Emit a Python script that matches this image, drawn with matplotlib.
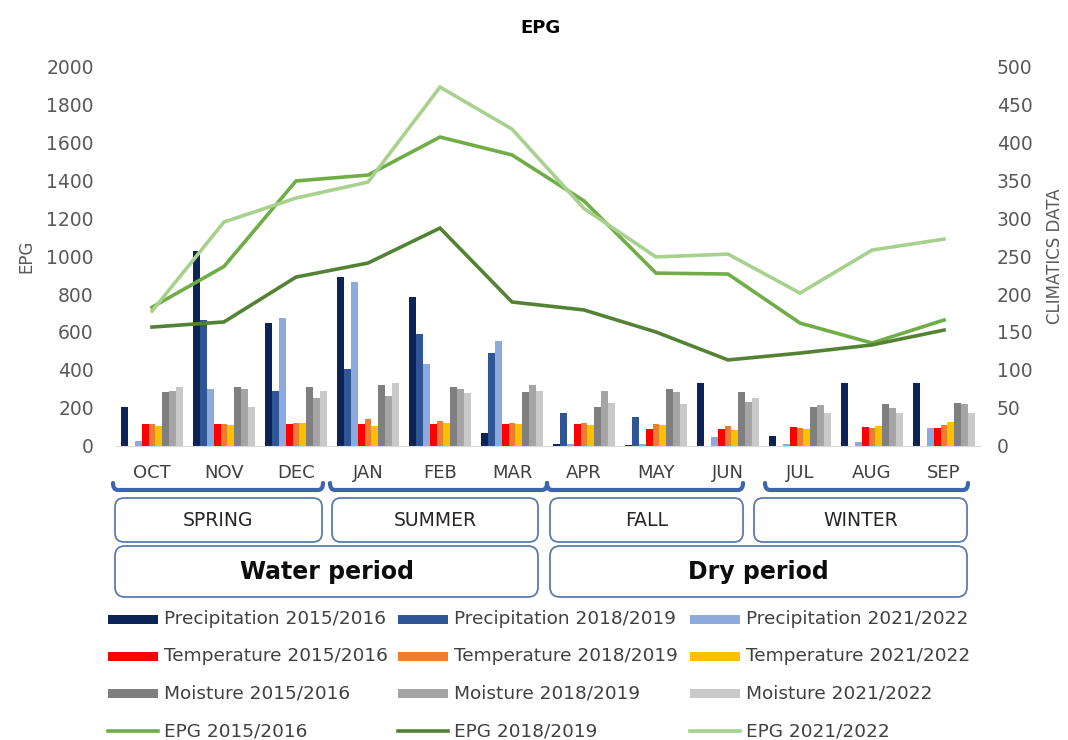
import numpy as np
import matplotlib
matplotlib.use("Agg")
import matplotlib.pyplot as plt
from matplotlib.patches import FancyBboxPatch, Rectangle, PathPatch
from matplotlib.path import Path

plt.rcParams['font.family'] = ['DejaVu Sans']

months = ['OCT', 'NOV', 'DEC', 'JAN', 'FEB', 'MAR', 'APR', 'MAY', 'JUN', 'JUL', 'AUG', 'SEP']

# EPG per month (left axis)
epg_1516 = [730, 945, 1395, 1426, 1626, 1532, 1290, 910, 905, 647, 542, 663]
epg_1819 = [626, 653, 889, 963, 1147, 758, 716, 600, 453, 489, 532, 610]
epg_2122 = [710, 1179, 1305, 1389, 1889, 1668, 1250, 995, 1010, 805, 1031, 1089]

# climatic data (right axis)
prec_1516 = [51, 257, 162, 222, 196, 17, 2, 1, 83, 13, 83, 83]
prec_1819 = [0, 166, 72, 101, 147, 122, 43, 38, 0, 0, 0, 0]
prec_2122 = [7, 75, 168, 216, 108, 138, 3, 2, 12, 3, 5, 24]
temp_1516 = [29, 29, 29, 29, 29, 29, 29, 22, 22, 25, 25, 24]
temp_1819 = [29, 29, 30, 36, 33, 30, 30, 29, 26, 24, 24, 28]
temp_2122 = [26, 28, 30, 26, 30, 29, 28, 28, 21, 22, 26, 31]
moist_1516 = [71, 78, 78, 80, 78, 71, 51, 75, 71, 51, 55, 57]
moist_1819 = [73, 75, 63, 66, 75, 80, 72, 71, 58, 54, 50, 55]
moist_2122 = [78, 51, 73, 83, 70, 72, 57, 55, 63, 43, 43, 43]

seasons = ['SPRING', 'SUMMER', 'FALL', 'WINTER']
periods = ['Water period', 'Dry period']

bar_series = [
    ('Precipitation 2015/2016', prec_1516, '#0C2455'),
    ('Precipitation 2018/2019', prec_1819, '#2F5597'),
    ('Precipitation 2021/2022', prec_2122, '#8EA9DB'),
    ('Temperature 2015/2016', temp_1516, '#FF0000'),
    ('Temperature 2018/2019', temp_1819, '#ED7D31'),
    ('Temperature 2021/2022', temp_2122, '#FFC000'),
    ('Moisture 2015/2016', moist_1516, '#7F7F7F'),
    ('Moisture 2018/2019', moist_1819, '#A5A5A5'),
    ('Moisture 2021/2022', moist_2122, '#C9C9C9'),
]
line_series = [
    ('EPG 2015/2016', epg_1516, '#70AD47'),
    ('EPG 2018/2019', epg_1819, '#548235'),
    ('EPG 2021/2022', epg_2122, '#A9D18E'),
]

W, H = 1068, 740
fig = plt.figure(figsize=(W / 100, H / 100), dpi=100)
fig.patch.set_facecolor('white')

ax = fig.add_axes([116 / W, 1 - 446 / H, 864 / W, 380 / H])
ax2 = ax.twinx()
x = np.arange(len(months))

# bars on the right axis
bw = 0.096
for i, (name, vals, col) in enumerate(bar_series):
    ax2.bar(x + (i - 4) * bw, vals, width=bw, color=col, linewidth=0)

# EPG lines on the left axis, drawn above the bars
for name, vals, col in line_series:
    ax.plot(x, vals, color=col, lw=2.6, solid_joinstyle='miter')
ax.set_zorder(ax2.get_zorder() + 1)
ax.patch.set_visible(False)

ax.set_xlim(-0.5, 11.5)
ax.set_ylim(0, 2000)
ax.set_yticks(range(0, 2001, 200))
ax2.set_ylim(0, 500)
ax2.set_yticks(range(0, 501, 50))
ax.set_xticks(x)
ax.set_xticklabels(months)

for a in (ax, ax2):
    for s in a.spines.values():
        s.set_visible(False)
    a.tick_params(length=0, labelsize=13.5, labelcolor='#595959')
ax2.spines['bottom'].set_visible(True)
ax2.spines['bottom'].set_color('#D9D9D9')
ax.tick_params(axis='x', pad=13, labelsize=13, labelcolor='#404040')
ax.tick_params(axis='y', pad=16)
ax2.tick_params(axis='y', pad=12)

ax.set_ylabel('EPG', fontsize=12, color='#595959', labelpad=8)
ax2.set_ylabel('CLIMATICS DATA', fontsize=12, color='#595959', labelpad=10)
fig.text(540 / W, 1 - 28 / H, 'EPG', ha='center', va='center',
         fontsize=13, fontweight='bold', color='#000000')

# overlay in pixel units for brackets, boxes and legend
ov = fig.add_axes([0, 0, 1, 1])
ov.set_xlim(0, W)
ov.set_ylim(H, 0)
ov.axis('off')

bracket_spans = [(113, 323), (330, 547), (547, 743), (765, 968)]
for x0, x1 in bracket_spans:
    verts = [(x0, 483), (x0, 490), (x0 + 5, 490), (x1 - 5, 490), (x1, 490), (x1, 483)]
    codes = [Path.MOVETO, Path.CURVE3, Path.CURVE3, Path.LINETO, Path.CURVE3, Path.CURVE3]
    ov.add_patch(PathPatch(Path(verts, codes), fill=False, edgecolor='#3B66AE',
                           lw=3, capstyle='round'))

season_boxes = [(115, 322), (332, 538), (550, 743), (754, 967)]
for (x0, x1), name in zip(season_boxes, seasons):
    ov.add_patch(FancyBboxPatch((x0, 498), x1 - x0, 44,
                                boxstyle='round,pad=0,rounding_size=9',
                                facecolor='white', edgecolor='#5A7BAE', lw=1.3))
    ov.text((x0 + x1) / 2, 520, name, ha='center', va='center',
            fontsize=13.5, color='#262626')

period_boxes = [(115, 538), (550, 967)]
for (x0, x1), name in zip(period_boxes, periods):
    ov.add_patch(FancyBboxPatch((x0, 546), x1 - x0, 51,
                                boxstyle='round,pad=0,rounding_size=10',
                                facecolor='white', edgecolor='#5A7BAE', lw=1.3))
    ov.text((x0 + x1) / 2, 572, name, ha='center', va='center',
            fontsize=17, fontweight='bold', color='#0D0D0D')

# legend, three columns by four rows
col_x = [108, 398, 690]
row_y = [619, 656, 693, 731]
for k, (name, vals, col) in enumerate(bar_series):
    r, c = divmod(k, 3)
    ov.add_patch(Rectangle((col_x[c], row_y[r] - 4.5), 50, 9, facecolor=col, lw=0))
    ov.text(col_x[c] + 56, row_y[r], name, ha='left', va='center',
            fontsize=13.3, color='#404040')
for c, (name, vals, col) in enumerate(line_series):
    ov.plot([col_x[c], col_x[c] + 50], [row_y[3], row_y[3]], color=col, lw=2.6)
    ov.text(col_x[c] + 56, row_y[3], name, ha='left', va='center',
            fontsize=13.3, color='#404040')

fig.savefig('out.png', dpi=100)
